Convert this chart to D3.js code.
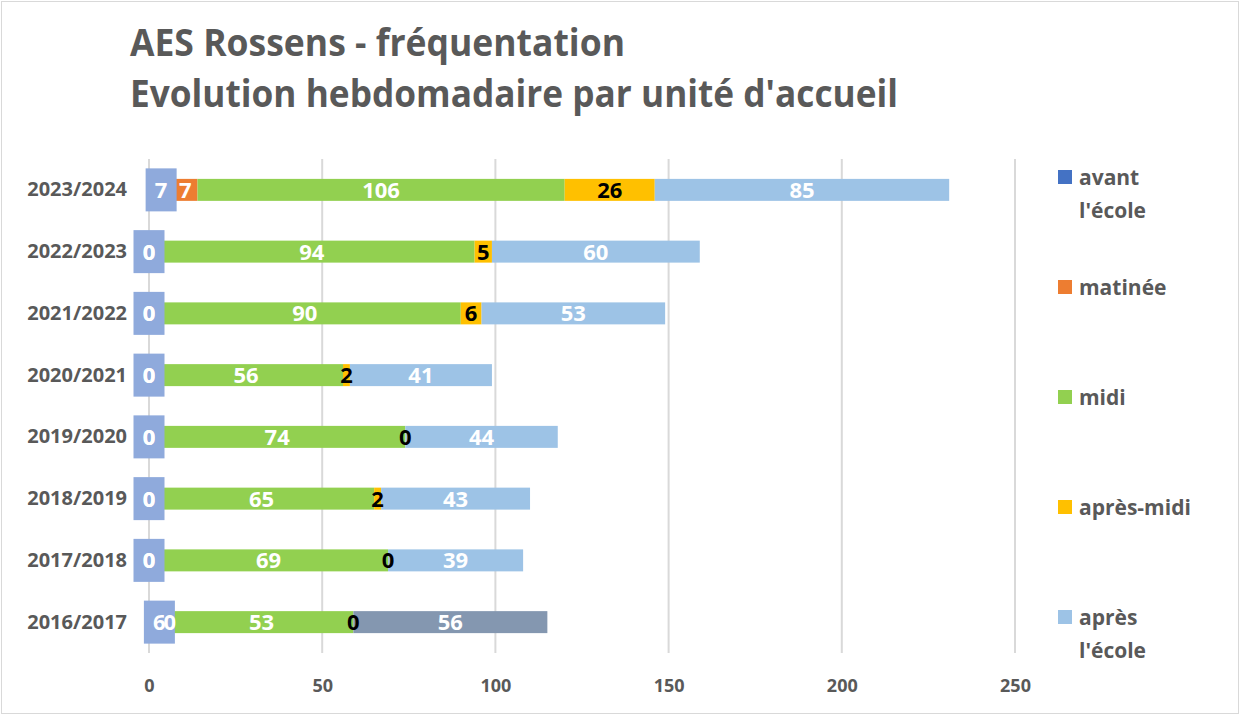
<!DOCTYPE html>
<html>
<head>
    <title>AES Rossens - fréquentation</title>
    <script src="https://d3js.org/d3.v7.min.js"></script>
    <style>
        html, body {
            margin: 0;
            background: #fff;
            overflow: hidden;
        }
        svg text {
            font-family: "Open Sans", sans-serif;
            font-weight: bold;
        }
    </style>
</head>
<body>
    <div id="chart"></div>

    <script>
        // Data
        const categories = ["2023/2024", "2022/2023", "2021/2022", "2020/2021",
                            "2019/2020", "2018/2019", "2017/2018", "2016/2017"];
        const avantEcole = [7, 0, 0, 0, 0, 0, 0, 6];
        const matinee    = [7, 0, 0, 0, 0, 0, 0, 0];
        const midi       = [106, 94, 90, 56, 74, 65, 69, 53];
        const apresMidi  = [26, 5, 6, 2, 0, 2, 0, 0];
        const apresEcole = [85, 60, 53, 41, 44, 43, 39, 56];
        const xTicks = [0, 50, 100, 150, 200, 250];

        const seriesNames = ["avant l'école", "matinée", "midi", "après-midi", "après l'école"];
        const seriesColors = ["#4472C4", "#ED7D31", "#92D050", "#FFC000", "#9DC3E6"];
        const labelColors = ["#fff", "#fff", "#fff", "#000", "#fff"];

        const W = 1240, H = 715;
        const textColor = "#595959";

        const rows = categories.map((c, i) => ({
            cat: c,
            v: [avantEcole[i], matinee[i], midi[i], apresMidi[i], apresEcole[i]]
        }));

        const svg = d3.select("#chart").append("svg")
            .attr("width", W)
            .attr("height", H);

        // chart border
        svg.append("rect")
            .attr("x", 1.5).attr("y", 1.5)
            .attr("width", W - 3).attr("height", H - 3)
            .attr("fill", "#fff")
            .attr("stroke", "#d9d9d9");

        // Title (squeezed a bit to mimic the narrow original font)
        const titleLines = [
            {text: "AES Rossens - fréquentation", y: 56, len: 495},
            {text: "Evolution hebdomadaire par unité d'accueil", y: 107, len: 768}
        ];
        svg.append("g")
            .selectAll("text")
            .data(titleLines)
            .join("text")
            .attr("x", 130)
            .attr("y", d => d.y)
            .attr("fill", textColor)
            .style("font-size", "37px")
            .attr("textLength", d => d.len)
            .attr("lengthAdjust", "spacingAndGlyphs")
            .text(d => d.text);

        // Scales
        const x = d3.scaleLinear().domain([0, 250]).range([149, 1015]);
        const y = d3.scaleBand()
            .domain(categories)
            .range([159, 653])
            .paddingInner(0.644)
            .paddingOuter(0.322);

        // Gridlines
        svg.append("g")
            .selectAll("line")
            .data(xTicks)
            .join("line")
            .attr("x1", d => x(d)).attr("x2", d => x(d))
            .attr("y1", 159).attr("y2", 653)
            .attr("stroke", "#d9d9d9")
            .attr("stroke-width", 2);

        // X axis labels
        const xAxis = svg.append("g")
            .attr("transform", "translate(0,679)")
            .call(d3.axisBottom(x).tickValues(xTicks).tickSize(0).tickPadding(0));
        xAxis.select(".domain").remove();
        xAxis.selectAll("text")
            .attr("fill", textColor)
            .style("font-size", "18px")
            .style("font-family", "\"Open Sans\", sans-serif")
            .style("font-weight", "bold");

        // Category labels
        const yAxis = svg.append("g")
            .attr("transform", "translate(127,0)")
            .call(d3.axisLeft(y).tickSize(0).tickPadding(0));
        yAxis.select(".domain").remove();
        yAxis.selectAll("text")
            .attr("fill", textColor)
            .style("font-size", "20px")
            .style("font-family", "\"Open Sans\", sans-serif")
            .style("font-weight", "bold");

        // Stacked segments
        const segs = [];
        rows.forEach((r, ri) => {
            let acc = 0;
            r.v.forEach((val, si) => {
                segs.push({cat: r.cat, row: ri, s: si, x0: acc, x1: acc + val, val: val});
                acc += val;
            });
        });

        const barH = y.bandwidth();

        svg.append("g")
            .selectAll("rect")
            .data(segs)
            .join("rect")
            .attr("x", d => x(d.x0))
            .attr("y", d => y(d.cat))
            .attr("width", d => x(d.x1) - x(d.x0))
            .attr("height", barH)
            .attr("fill", d => (d.s === 4 && d.cat === "2016/2017") ? "#8497B0" : seriesColors[d.s]);

        // Label boxes for "avant l'école"
        svg.append("g")
            .selectAll("rect")
            .data(segs.filter(d => d.s === 0))
            .join("rect")
            .attr("x", d => x((d.x0 + d.x1) / 2) - 15.5)
            .attr("y", d => y(d.cat) + barH / 2 - 21.5)
            .attr("width", 31)
            .attr("height", 43)
            .attr("fill", "#8FAADC");

        // Data labels
        svg.append("g")
            .selectAll("text")
            .data(segs)
            .join("text")
            .attr("x", d => x((d.x0 + d.x1) / 2))
            .attr("y", d => y(d.cat) + barH / 2)
            .attr("dy", "0.36em")
            .attr("text-anchor", "middle")
            .attr("fill", d => labelColors[d.s])
            .style("font-size", "22px")
            .text(d => d.val);

        // Legend
        const legend = svg.append("g");
        seriesNames.forEach((name, i) => {
            const top = 170 + i * 110;
            legend.append("rect")
                .attr("x", 1058).attr("y", top)
                .attr("width", 14).attr("height", 14)
                .attr("fill", seriesColors[i]);
            const words = (name === "avant l'école") ? ["avant", "l'école"]
                        : (name === "après l'école") ? ["après", "l'école"] : [name];
            const t = legend.append("text")
                .attr("fill", textColor)
                .style("font-size", "21px");
            words.forEach((w, k) => {
                t.append("tspan")
                    .attr("x", 1079)
                    .attr("y", top + 15 + k * 33)
                    .text(w);
            });
        });
    </script>
</body>
</html>
